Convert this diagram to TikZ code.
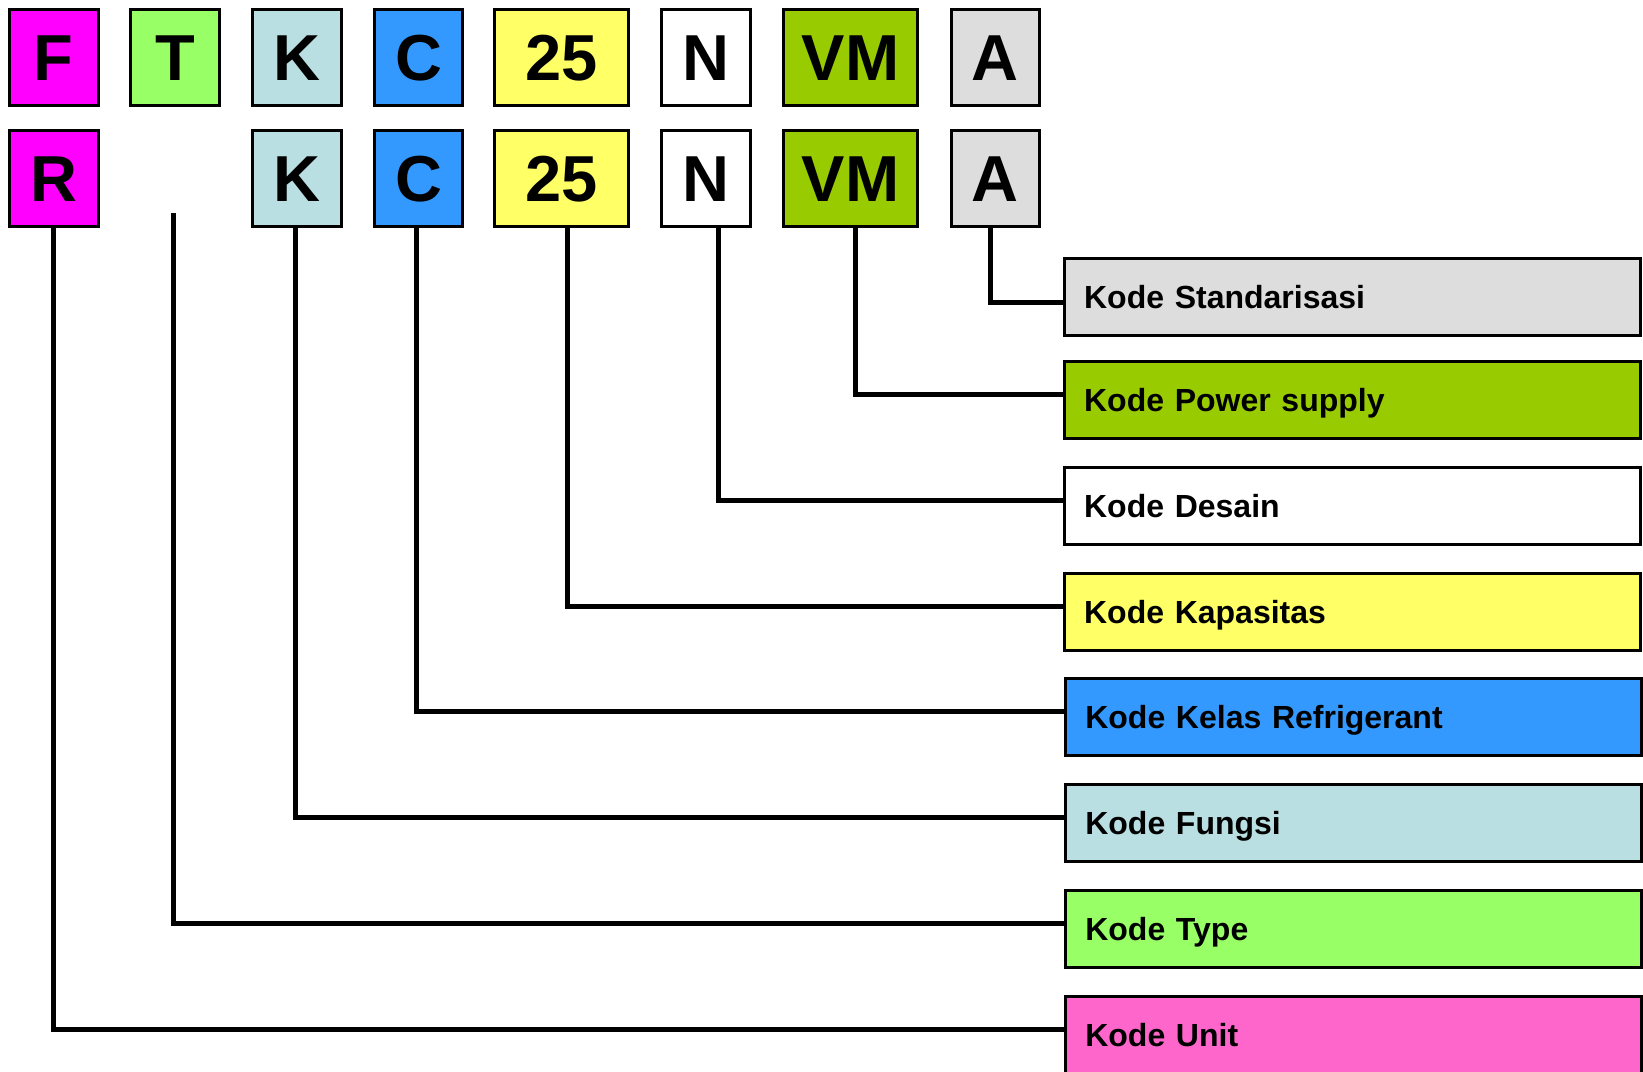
\documentclass[tikz,border=0pt]{standalone}
\usepackage{fontspec}
\setmainfont{Liberation Sans}

\definecolor{cMag}{HTML}{FF00FF}
\definecolor{cLime}{HTML}{99FF66}
\definecolor{cIce}{HTML}{BADFE3}
\definecolor{cBlue}{HTML}{3399FF}
\definecolor{cYel}{HTML}{FFFF66}
\definecolor{cOlive}{HTML}{99CC00}
\definecolor{cGrey}{HTML}{DDDDDD}
\definecolor{cPink}{HTML}{FF66CC}

\begin{document}
\begin{tikzpicture}
[x=1pt, y=-1pt,
 letter/.style={draw, line width=3pt, inner sep=0pt,
   font=\fontsize{65}{65}\selectfont\bfseries,
   text height=46.5pt, text depth=0pt,
   minimum width=88.5pt, minimum height=96pt},
 wide/.style={minimum width=134.5pt},
 kode/.style={draw, line width=3pt, inner xsep=19.5pt, inner ysep=0pt,
   font=\fontsize{32}{32}\selectfont\bfseries,
   text height=23pt, text depth=0pt, align=left,
   text width=537pt, minimum height=77pt},
 link/.style={line width=5pt}]

\useasboundingbox (0,0) rectangle (1643,1071);

\node[letter, fill=cMag] (F1) at (53.8,57.5) {F};
\node[letter, fill=cLime] (T1) at (175,57.5) {T};
\node[letter, fill=cIce] (K1) at (296.8,57.5) {K};
\node[letter, fill=cBlue] (C1) at (418.5,57.5) {C};
\node[letter, wide, fill=cYel] (D1) at (561.7,57.5) {25};
\node[letter, fill=white] (N1) at (705.8,57.5) {N};
\node[letter, wide, fill=cOlive] (V1) at (850.5,57.5) {VM};
\node[letter, fill=cGrey] (A1) at (995.3,57.5) {A};

\node[letter, fill=cMag] (R2) at (53.8,178.5) {R};
\node[letter, fill=cIce] (K2) at (296.8,178.5) {K};
\node[letter, fill=cBlue] (C2) at (418.5,178.5) {C};
\node[letter, wide, fill=cYel] (D2) at (561.7,178.5) {25};
\node[letter, fill=white] (N2) at (705.8,178.5) {N};
\node[letter, wide, fill=cOlive] (V2) at (850.5,178.5) {VM};
\node[letter, fill=cGrey] (A2) at (995.3,178.5) {A};
\coordinate (T2) at (173.5,213);

\node[kode, fill=cGrey] (Std) at (1352.6,297.3) {Kode Standarisasi};
\node[kode, fill=cOlive] (Pow) at (1352.6,399.7) {Kode Power supply};
\node[kode, fill=white] (Des) at (1352.6,505.7) {Kode Desain};
\node[kode, fill=cYel] (Kap) at (1352.6,611.5) {Kode Kapasitas};
\node[kode, fill=cBlue] (Kel) at (1353.8,717) {Kode Kelas Refrigerant};
\node[kode, fill=cIce] (Fun) at (1353.8,823) {Kode Fungsi};
\node[kode, fill=cLime] (Typ) at (1353.8,929) {Kode Type};
\node[kode, fill=cPink] (Uni) at (1353.8,1034.7) {Kode Unit};

\draw[link] ([xshift=-4.5pt]A2.south) |- ([yshift=-4.7pt]Std.west);
\draw[link] ([xshift=4.5pt]V2.south) |- ([yshift=5.5pt]Pow.west);
\draw[link] ([xshift=13pt]N2.south) |- ([yshift=5.5pt]Des.west);
\draw[link] ([xshift=6pt]D2.south) |- ([yshift=5.5pt]Kap.west);
\draw[link] ([xshift=-2pt]C2.south) |- ([yshift=5.5pt]Kel.west);
\draw[link] ([xshift=-1.5pt]K2.south) |- ([yshift=5.5pt]Fun.west);
\draw[link] (T2) |- ([yshift=5.5pt]Typ.west);
\draw[link] (R2.south) |- ([yshift=5.5pt]Uni.west);

\end{tikzpicture}
\end{document}
